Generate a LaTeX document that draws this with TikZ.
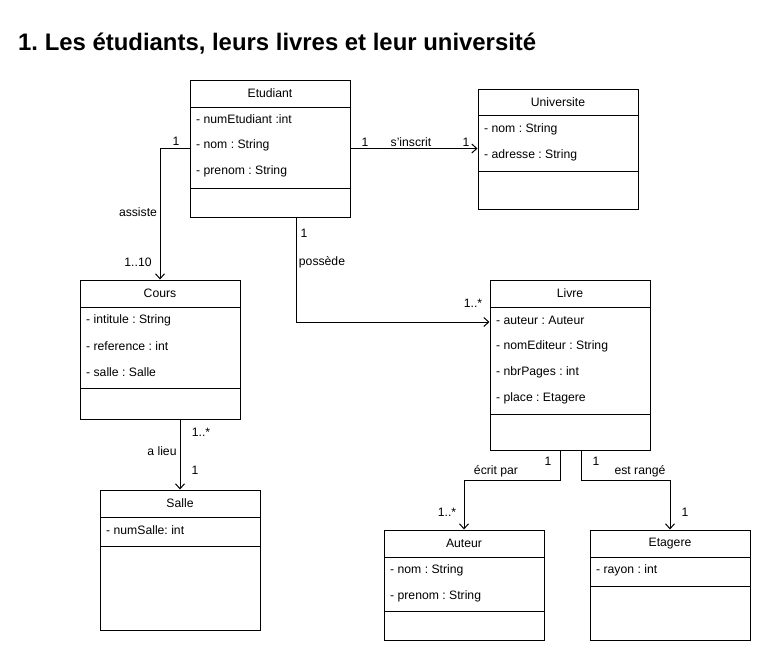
\documentclass[tikz,border=0pt]{standalone}
\usepackage{fontspec}
\setmainfont{Liberation Sans}
\usetikzlibrary{arrows.meta}
\frenchspacing
\begin{document}
\begin{tikzpicture}[x=1pt,y=-1pt,
  cls/.style={draw, line width=1pt, minimum width=160pt, inner sep=0pt, fill=white},
  hdr/.style={font=\fontsize{12.2}{14}\selectfont, inner sep=0pt},
  attr/.style={font=\fontsize{12.2}{14}\selectfont, inner sep=0pt, anchor=west},
  lbl/.style={font=\fontsize{12.2}{14}\selectfont, inner sep=0pt},
  sep/.style={line width=1pt},
  assoc/.style={line width=1pt, -{Straight Barb[length=5pt,width=9pt,line width=1pt]}}]
\useasboundingbox[fill=white] (0,0) rectangle (761,651);

\node[anchor=west, inner sep=0pt, font=\fontsize{23.9}{28}\selectfont\bfseries] (title) at (18,44) {1. Les étudiants, leurs livres et leur université};

% Etudiant
\node[cls, minimum height=137pt] (etu) at (270,148.5) {};
\node[hdr] (etuT) at (270,93.5) {Etudiant};
\draw[sep] (190,107) -- (350,107);
\node[attr] (etu1) at (196,119.5) {- numEtudiant :int};
\node[attr] (etu2) at (196,145.5) {- nom : String};
\node[attr] (etu3) at (196,171.5) {- prenom : String};
\draw[sep] (190,188) -- (350,188);

% Universite
\node[cls, minimum height=120pt] (univ) at (558,149) {};
\node[hdr] (univT) at (558,102.5) {Universite};
\draw[sep] (478,115) -- (638,115);
\node[attr] (univ1) at (484,129.5) {- nom : String};
\node[attr] (univ2) at (484,155.5) {- adresse : String};
\draw[sep] (478,171) -- (638,171);

% Cours
\node[cls, minimum height=139pt] (cours) at (160,349.5) {};
\node[hdr] (coursT) at (160,293.5) {Cours};
\draw[sep] (80,307) -- (240,307);
\node[attr] (cours1) at (86,320.5) {- intitule : String};
\node[attr] (cours2) at (86,346.5) {- reference : int};
\node[attr] (cours3) at (86,372.5) {- salle : Salle};
\draw[sep] (80,388) -- (240,388);

% Livre
\node[cls, minimum height=170pt] (livre) at (570,365) {};
\node[hdr] (livreT) at (570,293.5) {Livre};
\draw[sep] (490,307) -- (650,307);
\node[attr] (livre1) at (496,320.5) {- auteur : Auteur};
\node[attr] (livre2) at (496,346.5) {- nomEditeur : String};
\node[attr] (livre3) at (496,372.5) {- nbrPages : int};
\node[attr] (livre4) at (496,398.5) {- place : Etagere};
\draw[sep] (490,414) -- (650,414);

% Salle
\node[cls, minimum height=140pt] (salle) at (180,560) {};
\node[hdr] (salleT) at (180,503.5) {Salle};
\draw[sep] (100,517) -- (260,517);
\node[attr] (salle1) at (106,530.5) {- numSalle: int};
\draw[sep] (100,546) -- (260,546);

% Auteur
\node[cls, minimum height=110pt] (aut) at (464,585) {};
\node[hdr] (autT) at (464,543.5) {Auteur};
\draw[sep] (384,557) -- (544,557);
\node[attr] (aut1) at (390,570.5) {- nom : String};
\node[attr] (aut2) at (390,596.5) {- prenom : String};
\draw[sep] (384,611) -- (544,611);

% Etagere
\node[cls, minimum height=110pt] (eta) at (670,585) {};
\node[hdr] (etaT) at (670,543.5) {Etagere};
\draw[sep] (590,557) -- (750,557);
\node[attr] (eta1) at (596,570.5) {- rayon : int};
\draw[sep] (590,586) -- (750,586);

% Connectors
\draw[assoc] (etu.west) -| (cours.north);
\node[lbl] (l1) at (176,141) {1};
\node[lbl] (l2) at (138,212) {assiste};
\node[lbl] (l3) at (138,262) {1..10};

\draw[assoc] (etu.east) -- (univ.west |- etu.east);
\node[lbl] (l4) at (365,142) {1};
\node[lbl] (l5) at (411,142) {s'inscrit};
\node[lbl] (l6) at (466,142) {1};

\draw[assoc] ([xshift=26pt]etu.south) |- ([yshift=43pt]livre.west);
\node[lbl] (l7) at (304,233) {1};
\node[lbl] (l8) at (322,262) {possède};
\node[lbl] (l9) at (473,303) {1..*};

\draw[assoc] (salle.north |- cours.south) -- (salle.north);
\node[lbl] (l10) at (201,432) {1..*};
\node[lbl] (l11) at (162,451) {a lieu};
\node[lbl] (l12) at (195,470) {1};

\draw[assoc] ([xshift=-10pt]livre.south) -- ++(0,30) -| (aut.north);
\node[lbl] (l13) at (548,461) {1};
\node[lbl] (l14) at (496,471) {écrit par};
\node[lbl] (l15) at (447,512) {1..*};

\draw[assoc] ([xshift=11pt]livre.south) -- ++(0,30) -| (eta.north);
\node[lbl] (l16) at (596,461) {1};
\node[lbl] (l17) at (640,471) {est rangé};
\node[lbl] (l18) at (685,512) {1};
\end{tikzpicture}
\end{document}
